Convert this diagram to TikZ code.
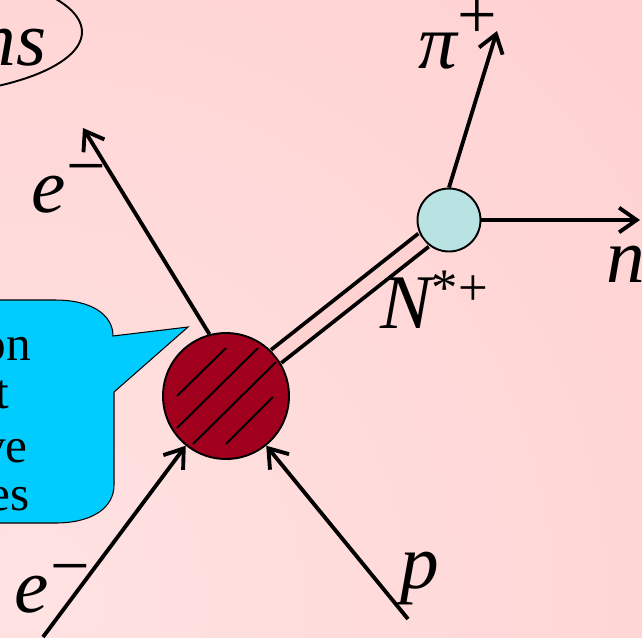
\documentclass[tikz,border=0pt]{standalone}
\usepackage{fontspec}
\setmainfont{Liberation Serif}
\usetikzlibrary{arrows.meta}

\definecolor{bgpink}{RGB}{255,204,204}
\definecolor{bglight}{RGB}{255,226,226}
\definecolor{bgmid}{RGB}{255,210,210}
\definecolor{hadron}{RGB}{160,0,30}
\definecolor{nstar}{RGB}{185,226,227}
\definecolor{bubble}{RGB}{0,204,255}

\newcommand\supbig{\fontsize{40}{40}\selectfont\upshape}
\newcommand\supsmall{\fontsize{30}{30}\selectfont\upshape}

\begin{document}
\begin{tikzpicture}[
  x=0.02cm, y=-0.02cm,
  particle/.style={line width=2.2pt, -{Straight Barb[length=10pt,width=14pt]}},
  vertex/.style={circle, draw, line width=1.1pt, inner sep=0pt},
  hatch/.style={line width=1.1pt},
  nstarline/.style={line width=2.2pt, double=bgmid, double distance=7.2pt},
  plabel/.style={font=\fontsize{44}{44}\selectfont\itshape, inner sep=0pt},
  btext/.style={font=\fontsize{28}{34}\selectfont, inner sep=0pt, anchor=base east},
]
\useasboundingbox (0,0) rectangle (642,637);
\clip (0,0) rectangle (642,637);

% background
\fill[bgpink] (0,0) rectangle (642,637);
\shade[inner color=bglight, outer color=bgpink] (30,600) circle (1100);

% ellipse round the title
\draw[line width=1.1pt] (-100,32) ellipse [x radius=182, y radius=64];
\node[plabel, anchor=base east] (title) at (47,65) {ns};

% speech bubble
\draw[fill=bubble, line width=0.6pt]
  (-10,300) -- (55,300) .. controls (92,300) and (113,315) .. (113,336)
  -- (188,327) -- (114,392) -- (114,485)
  .. controls (114,508) and (92,523) .. (55,523) -- (-10,523) -- cycle;
\node[btext] (bt1) at (31,360) {on};
\node[btext] (bt2) at (10,408) {t};
\node[btext] (bt3) at (28,462) {ve};
\node[btext] (bt4) at (30,510) {es};

% vertices
\node[vertex, fill=hadron, minimum size=2.52cm] (big) at (226,396) {};
\node[vertex, fill=nstar, minimum size=1.26cm] (small) at (449,220) {};

\draw[hatch] (177,396) -- (226,348);
\draw[hatch] (177,428) -- (258,348);
\draw[hatch] (193,444) -- (276,362);
\draw[hatch] (226,444) -- (273,397);

\draw[nstarline] (big) -- (small);

% free ends
\coordinate (eoutend) at (83,128);
\coordinate (einstart) at (43,637);
\coordinate (pstart) at (408,619);
\coordinate (piend) at (497,31);
\coordinate (nend) at (640,220);

\draw[particle] (big.105) -- (eoutend);
\draw[particle] (einstart) -- (big.231);
\draw[particle] (pstart) -- (big.309);
\draw[particle] (small.north) -- (piend);
\draw[particle] (small.east) -- (nend);

% labels
\node[plabel, anchor=base west] (eoutlbl) at (31,212) {e\hspace{0.5pt}\raisebox{13pt}{\supbig −}};
\node[plabel, anchor=base west] (einlbl) at (14,612) {e\hspace{1pt}\raisebox{13pt}{\supbig −}};
\node[plabel, anchor=base west] (plbl) at (400,588) {p};
\node[plabel, anchor=base west] (pilbl) at (418,68) {π\hspace{0pt}\raisebox{17pt}{\supbig +}};
\node[plabel, anchor=base west] (nlbl) at (606,282) {n};
\node[plabel, anchor=base west] (nstarlbl) at (380,328) {N\raisebox{13pt}{\supsmall *+}};
\end{tikzpicture}
\end{document}
